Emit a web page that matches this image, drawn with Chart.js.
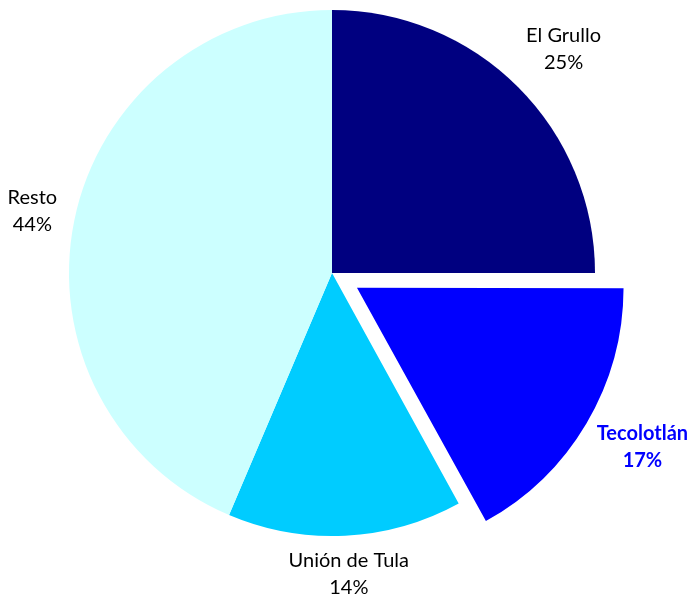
<!DOCTYPE html>
<html>
<head>
<meta charset="utf-8">
<script src="https://cdn.jsdelivr.net/npm/chart.js@4/dist/chart.umd.min.js"></script>
<style>
  html, body { margin: 0; padding: 0; background: #fff; }
  #wrap { width: 693px; height: 596px; }
</style>
</head>
<body>
<div id="wrap"><canvas id="chart" width="693" height="596"></canvas></div>
<script>
// ===== DATA =====
const categories = ['El Grullo', 'Tecolotlán', 'Unión de Tula', 'Resto'];
const shares     = [25, 17, 14.4, 43.6];
const sliceColors = ['#000080', '#0000FF', '#00CCFF', '#CCFFFF'];
const explodePx  = [0, 29, 0, 0];
const labelColors = ['#000000', '#0000FF', '#000000', '#000000'];
const labelBold   = [false, true, false, false];

// ===== LABEL PLUGIN (outside end, two lines) =====
// Chart.js arcs move by offset / 4, so the option is scaled up below
const labelPad = [27, 23, 11, 18];
const outsideLabels = {
  id: 'outsideLabels',
  afterDatasetsDraw(chart) {
    const ctx  = chart.ctx;
    const meta = chart.getDatasetMeta(0);
    const lineH = 27;
    meta.data.forEach(function(arc, i) {
      const p = arc.getProps(['x', 'y', 'startAngle', 'endAngle', 'outerRadius'], true);
      const mid = (p.startAngle + p.endAngle) / 2;
      const dx = Math.cos(mid), dy = Math.sin(mid);
      const cx = p.x + dx * explodePx[i], cy = p.y + dy * explodePx[i];
      ctx.save();
      ctx.font = (labelBold[i] ? 'bold ' : '') + '20px Lato, "Open Sans", sans-serif';
      const l1 = categories[i];
      const l2 = Math.round(shares[i]) + '%';
      const w = Math.max(ctx.measureText(l1).width, ctx.measureText(l2).width);
      const h = lineH * 2;
      const r = p.outerRadius + labelPad[i];
      const tx = cx + dx * r + dx * w / 2;
      const ty = cy + dy * r + dy * h / 2;
      ctx.fillStyle = labelColors[i];
      ctx.textAlign = 'center';
      ctx.textBaseline = 'middle';
      ctx.fillText(l1, tx, ty - lineH / 2);
      ctx.fillText(l2, tx, ty + lineH / 2);
      ctx.restore();
    });
  }
};

// ===== CHART =====
const chartEl = document.getElementById('chart');
new Chart(chartEl, {
  type: 'pie',
  data: {
    labels: categories,
    datasets: [{
      data: shares,
      backgroundColor: sliceColors,
      borderWidth: 0,
      offset: explodePx.map(function(v){ return v * 4; }),
      hoverOffset: 0,
      clip: false
    }]
  },
  options: {
    responsive: false,
    animation: false,
    radius: 263,
    layout: { padding: { left: 0, right: 29, top: 0, bottom: 50 } },
    plugins: {
      legend: { display: false },
      tooltip: { enabled: false }
    }
  },
  plugins: [outsideLabels]
});
</script>
</body>
</html>
